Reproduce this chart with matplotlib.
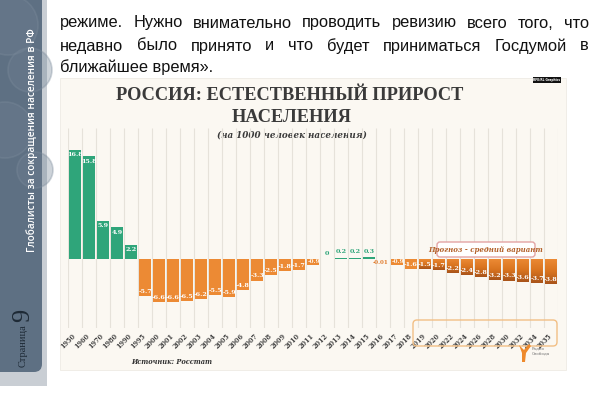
import matplotlib
matplotlib.use("Agg")
import matplotlib.pyplot as plt
import numpy as np
from matplotlib.patches import Rectangle, FancyBboxPatch, Circle, Polygon
from matplotlib.colors import LinearSegmentedColormap

# ---------------- data ----------------
years = ["1950", "1960", "1970", "1980", "1990", "1995", "2000", "2001", "2002", "2003",
         "2004", "2005", "2006", "2007", "2008", "2009", "2010", "2011", "2012", "2013",
         "2014", "2015", "2016", "2017", "2018", "2019", "2020", "2022", "2024", "2026",
         "2028", "2030", "2032", "2034", "2035"]
values = [16.8, 15.8, 5.9, 4.9, 2.2, -5.7, -6.6, -6.6, -6.5, -6.2,
          -5.5, -5.9, -4.8, -3.3, -2.5, -1.8, -1.7, -0.9, 0, 0.2,
          0.2, 0.3, -0.01, -0.9, -1.6, -1.5, -1.7, -2.2, -2.4, -2.8,
          -3.2, -3.3, -3.6, -3.7, -3.8]
forecast_start = "2019"

title1 = "РОССИЯ: ЕСТЕСТВЕННЫЙ ПРИРОСТ"
title2 = "НАСЕЛЕНИЯ"
subtitle = "(на 1000 человек населения)"
source = "Источник: Росстат"
forecast_label = "Прогноз - средний вариант"
body_lines = ["режиме. Нужно внимательно проводить ревизию всего того, что",
              "недавно было принято и что будет приниматься Госдумой в",
              "ближайшее время»."]
side_text = "Глобалисты за сокращения населения в РФ"

GREEN = "#2fa57a"
ORANGE = "#ec8a34"
DARK = "#a9541a"

W, H = 600, 399
fig = plt.figure(figsize=(6, 3.99), dpi=100)
fig.patch.set_facecolor("white")

# background pixel axes
bg = fig.add_axes([0, 0, 1, 1], zorder=0)
bg.set_xlim(0, W); bg.set_ylim(H, 0); bg.axis("off")

# sidebar
bg.add_patch(Rectangle((0, 0), 47, 386, facecolor="#c9ced4", edgecolor="none"))
bg.add_patch(FancyBboxPatch((-20, -20), 62, 392, boxstyle="round,pad=0,rounding_size=8",
                            facecolor="#5e7083", edgecolor="none"))
for (cx, cy, r) in [(8, 25, 30), (30, 70, 22), (5, 130, 28), (35, 170, 18)]:
    bg.add_patch(Circle((cx, cy), r, facecolor="#708193", edgecolor="#7d8c9c", lw=1.2, alpha=0.35))
bg.text(32, 252, side_text, rotation=90, ha="center", va="bottom", color="white",
        fontsize=7.2, family="Open Sans", fontweight="semibold")
bg.text(23, 367, "Страница", rotation=90, ha="center", va="bottom", color="#1e2a36",
        fontsize=7.5, family="Liberation Serif")
bg.text(23, 322, "9", rotation=90, ha="center", va="bottom", color="#1e2a36",
        fontsize=19, family="Liberation Serif")

# chart background (cream)
bg.add_patch(Rectangle((60, 78), 506, 292, facecolor="#fbf8f2", edgecolor="#eeebe4", lw=0.6))

# body text, justified
renderer = fig.canvas.get_renderer()
body_fs = 11.8
x0, x1 = 60, 589
ys = [23, 46, 67]
for li, (line, yy) in enumerate(zip(body_lines, ys)):
    words = line.split(" ")
    if li == len(body_lines) - 1:
        bg.text(x0, yy, line, ha="left", va="center", fontsize=body_fs,
                family="Liberation Sans", color="#111")
        continue
    widths = []
    for w_ in words:
        t = bg.text(0, 0, w_, fontsize=body_fs, family="Liberation Sans")
        widths.append(t.get_window_extent(renderer).width)
        t.remove()
    gap = (x1 - x0 - sum(widths)) / (len(words) - 1)
    cx = x0
    for w_, wd in zip(words, widths):
        bg.text(cx, yy, w_, ha="left", va="center", fontsize=body_fs,
                family="Liberation Sans", color="#111")
        cx += wd + gap

# titles
bg.text(290, 96, title1, ha="center", va="center", fontsize=13.2, fontweight="bold",
        family="Liberation Serif", color="#3a3a3a")
bg.text(292, 117, title2, ha="center", va="center", fontsize=13.2, fontweight="bold",
        family="Liberation Serif", color="#3a3a3a")
bg.text(292, 135, subtitle, ha="center", va="center", fontsize=6.3, fontweight="bold",
        style="italic", family="DejaVu Serif", color="#3a3a3a")

# RFE/RL badge
bg.add_patch(Rectangle((533, 77), 28, 6, facecolor="#111", edgecolor="none"))
bg.text(547, 80, "RFE/RL Graphics", ha="center", va="center", fontsize=2.2, color="white",
        fontweight="bold")

# ---------------- bars ----------------
n = len(years)
ax = fig.add_axes([68 / W, (H - 328) / H, 490 / W, 200 / H], zorder=1)
ax.patch.set_alpha(0)
ax.axis("off")
x = np.arange(n)
ax.vlines(np.arange(n + 1) - 0.5, -10.6, 20.15, color="#e6e2da", lw=0.8, zorder=0)

fi = years.index(forecast_start)
grad = np.linspace(0, 1, 64).reshape(-1, 1)
gcmap = LinearSegmentedColormap.from_list("g", [ORANGE, "#d9741f", DARK])
for i, v in enumerate(values):
    if v == 0:
        continue
    col = GREEN if v > 0 else ORANGE
    b = ax.bar(x[i], v, width=0.84, color=col, zorder=2)[0]
    if i >= fi:
        im = ax.imshow(grad, extent=(i - 0.42, i + 0.42, v, 0), aspect="auto",
                       cmap=gcmap, zorder=3, origin="upper")
        im.set_clip_path(b)
ax.set_xlim(-0.5, n - 0.5)
ax.set_ylim(-10.6, 20.15)

lab_kw = dict(ha="center", va="center", fontweight="bold", family="DejaVu Serif", zorder=5)
for i, v in enumerate(values):
    s = f"{v:g}"
    if v >= 1:
        ax.text(i, v - 0.75, s, color="white", fontsize=4.6, **lab_kw)
    elif 0 <= v < 1:
        ax.text(i, v + 0.9, s, color=GREEN, fontsize=4.6, **lab_kw)
    elif v > -0.5:
        ax.text(i - 0.2, -0.55, s, color="#e07a2a", fontsize=4.0, **lab_kw)
    elif v > -1.2:
        ax.text(i + 0.08, v / 2, s, color="#fff3e6", fontsize=4.2, **lab_kw)
    else:
        ax.text(i, v + 0.7, s, color="white", fontsize=4.6, **lab_kw)

xt = ax.get_xaxis_transform()
for i, yl in enumerate(years):
    ax.text(i + 0.2, -0.02, yl, transform=xt, rotation=45, ha="right", va="top",
            fontsize=4.7, fontweight="bold", family="DejaVu Serif", color="#444", zorder=5)

# ---------------- foreground decorations ----------------
fg = fig.add_axes([0, 0, 1, 1], zorder=2)
fg.set_xlim(0, W); fg.set_ylim(H, 0); fg.axis("off"); fg.patch.set_alpha(0)
fg.add_patch(FancyBboxPatch((413, 320), 144, 26, boxstyle="round,pad=0,rounding_size=4",
                            facecolor="none", edgecolor="#f2bf85", lw=1.0))
fg.add_patch(FancyBboxPatch((437, 242), 98, 15, boxstyle="round,pad=0,rounding_size=3",
                            facecolor="white", edgecolor="#e3a4a4", lw=1.0))
fg.text(486, 249.5, forecast_label, ha="center", va="center", fontsize=5, fontweight="bold",
        style="italic", family="DejaVu Serif", color="#b3612a")
fg.text(172, 362, source, ha="center", va="center", fontsize=4.8, fontweight="bold",
        style="italic", family="DejaVu Serif", color="#333")
# Radio Svoboda logo
fg.add_patch(Polygon([(519, 345), (524, 350), (529, 344), (531, 346), (526, 353),
                      (525, 362), (522, 362), (522, 353)], closed=True,
                     facecolor="#ee8a2c", edgecolor="none"))
fg.text(532, 347, "Радио\nСвобода", ha="left", va="top", fontsize=3, color="#777",
        linespacing=1.3)

fig.savefig("out.png", dpi=100)
